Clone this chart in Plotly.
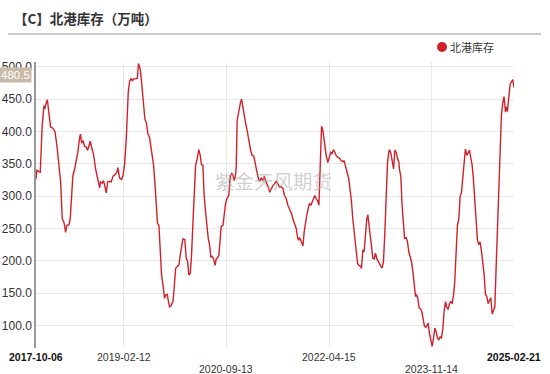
import pandas as pd
import plotly.graph_objects as go

origin = "2017-10-06"
# days since origin (weekly data)
day_offsets = [
    0, 5, 17, 24, 35, 45, 50, 54, 64, 73, 82, 95, 107, 118, 129, 139, 148, 156, 161, 167,
    174, 186, 193, 201, 208, 218, 227, 236, 246, 251, 257, 265, 274, 283, 291, 298, 306, 313,
    325, 336, 349, 359, 364, 374, 381, 389, 396, 404, 415, 424, 434, 445, 456, 462, 471, 483,
    490, 499, 509, 520, 528, 537, 543, 550, 561, 571, 578, 588, 597, 606, 614, 622, 631,
    640, 650, 663, 670, 678, 685, 693, 700, 708, 716, 725, 731, 740, 747, 753, 762, 772, 779,
    787, 796, 806, 813, 823, 828, 839, 847, 855, 862, 870, 877, 885, 892, 900, 909, 918, 926,
    933, 941, 948, 956, 964, 971, 979, 986, 994, 1001, 1010, 1016, 1025, 1031, 1039, 1044,
    1054, 1061, 1069, 1078, 1087, 1095, 1103, 1110, 1118, 1125, 1129, 1134, 1144, 1153, 1159,
    1166, 1174, 1181, 1191, 1200, 1210, 1219, 1228, 1238, 1245, 1253, 1260, 1270, 1279, 1287,
    1294, 1302, 1313,
    1317, 1326, 1335, 1345, 1354, 1364, 1373, 1382, 1392, 1401, 1411, 1420, 1429, 1441, 1448,
    1458, 1467, 1474, 1480, 1486, 1493, 1505, 1512, 1520, 1527, 1535, 1542, 1550, 1557, 1565,
    1572, 1580, 1589, 1595, 1602, 1610, 1617, 1627, 1636, 1645, 1655, 1662, 1670, 1677, 1685,
    1692, 1702, 1711, 1721, 1730, 1737, 1745, 1754, 1764, 1771, 1779, 1786, 1796, 1805, 1813,
    1820, 1830, 1835, 1843, 1850, 1858, 1865, 1871, 1877, 1884, 1892, 1899, 1907, 1914, 1922,
    1929, 1937, 1944, 1952, 1959, 1967, 1974, 1982, 1989,
    1993, 2001, 2008, 2016, 2023, 2031, 2038, 2046, 2049, 2057, 2064, 2072, 2078, 2087, 2094,
    2102, 2110, 2117, 2125, 2132, 2140, 2147, 2153, 2160, 2168, 2175, 2183, 2190, 2198, 2203,
    2211, 2218, 2226, 2234, 2241, 2249, 2256, 2264, 2271, 2279, 2286, 2294, 2301, 2309, 2316,
    2324, 2331, 2339, 2346, 2354, 2361, 2369, 2376, 2384, 2391, 2399, 2406, 2414, 2421, 2429,
    2436, 2444, 2451, 2459, 2466, 2474, 2481, 2489, 2496, 2504, 2512, 2519, 2527, 2534, 2542,
    2549, 2557, 2564, 2572, 2579, 2587, 2594, 2602, 2609, 2617, 2624, 2632, 2639, 2647, 2651,
    2658, 2666, 2673, 2688, 2695,
]
inventory = [
    326, 340, 338, 337, 409, 440, 435, 441, 449, 430, 407, 405, 400, 378, 353, 322, 265, 261, 255, 244,
    255, 256, 265, 296, 332, 342, 353, 368, 391, 396, 382, 386, 377, 376, 371, 377, 385, 376,
    364, 342, 326, 313, 322, 320, 324, 314, 305, 322, 323, 322, 331, 333, 337, 344, 328, 326,
    331, 348, 389, 460, 478, 482, 478, 481, 482, 482, 505, 496, 471, 445, 419, 414, 396,
    391, 368, 348, 322, 281, 258, 255, 219, 178, 163, 142, 147, 148, 137, 129, 131, 137, 158,
    188, 191, 194, 209, 224, 234, 233, 204, 199, 178, 181, 209, 260, 301, 348, 358, 372, 363,
    349, 348, 301, 276, 250, 235, 224, 206, 207, 203, 193, 203, 205, 209, 235, 253,
    255, 276, 289, 297, 301, 330, 335, 333, 324, 333, 345, 417, 435, 445, 450,
    437, 426, 414, 401, 383, 371, 363, 362, 348, 337, 328, 323, 328, 324, 331,
    324, 319, 312,
    306, 312, 316, 319, 323, 319, 314, 315, 312, 301, 296, 286, 280, 273, 265,
    258, 250, 237, 232, 236, 230, 223, 245, 263, 271, 281, 289, 286, 291, 294,
    301, 296, 292, 286, 348, 408, 402, 378, 363, 352, 363, 368, 366, 372, 368,
    363, 360, 359, 355, 353, 355, 348, 337, 326, 312, 291, 265, 240, 214, 196,
    193, 192, 188, 217, 214, 245, 265, 271, 260, 240, 222, 204, 203, 212, 203,
    199, 196, 192, 189, 199, 245, 301, 353, 368, 372, 366, 357, 342,
    371, 368, 358, 353, 342, 330, 286, 250, 235, 236, 230, 214, 206, 199, 183,
    163, 145, 147, 142, 127, 126, 122, 106, 99, 97, 99, 104, 88, 75, 68,
    80, 96, 91, 80, 78, 83, 80, 96, 122, 137, 128, 125, 134, 137, 134,
    147, 168, 214, 255, 265, 299, 306, 332, 358, 373, 363, 366, 371, 360, 348,
    327, 291, 265, 232, 225, 229, 214, 199, 178, 148, 145, 134, 139, 143, 118,
    123, 129, 188, 250, 312, 378, 425, 445, 454, 430, 438, 431, 455, 473, 480,
    468, 448, 425, 455, 480.5,
]
series_name = "北港库存"
title_text = "【C】北港库存（万吨）"
watermark = "紫金天风期货"
tick_dates = ["2017-10-06", "2019-02-12", "2020-09-13", "2022-04-15", "2023-11-14", "2025-02-21"]
tick_row = [0, 0, 1, 0, 1, 0]
tick_bold = [True, False, False, False, False, True]
y_ticks = [100, 150, 200, 250, 300, 350, 400, 450, 500]

dates = pd.to_datetime(origin) + pd.to_timedelta(day_offsets, unit="D")
last_value = inventory[-1]

RED = "#d2202a"
fig = go.Figure()
fig.add_trace(go.Scatter(
    x=dates, y=inventory, mode="lines", name=series_name,
    line=dict(color=RED, width=1.4), showlegend=False, hoverinfo="skip",
))

fig.update_layout(
    width=550, height=374,
    margin=dict(l=36, r=36, t=62, b=26, autoexpand=False),
    paper_bgcolor="white", plot_bgcolor="white",
    font=dict(family="Arial, Liberation Sans, sans-serif", color="#333333"),
    xaxis=dict(
        type="date",
        range=[tick_dates[0], tick_dates[-1]],
        tickvals=tick_dates[1:-1],
        showticklabels=False,
        showgrid=True, gridcolor="#e8e8e8", gridwidth=1,
        showline=False, zeroline=False, ticks="", automargin=False,
    ),
    yaxis=dict(
        range=[65.3, 507.4],
        tickvals=y_ticks,
        tickformat=".1f",
        tickfont=dict(size=12, color="#333333"),
        showgrid=True, gridcolor="#e8e8e8", gridwidth=1,
        showline=True, linecolor="#999999", linewidth=1.5,
        zeroline=False, ticks="", automargin=False,
    ),
)

annotations = []
# title
annotations.append(dict(
    text="<b>" + title_text + "</b>", xref="paper", yref="paper",
    x=(12 - 36) / 478, y=(348 - 18) / 286, xanchor="left", yanchor="middle",
    showarrow=False, font=dict(size=13.5, color="#333333",
                               family="Noto Sans CJK SC, sans-serif"),
))
# legend text
annotations.append(dict(
    text=series_name, xref="paper", yref="paper",
    x=(448 - 36) / 478, y=(348 - 47) / 286, xanchor="left", yanchor="middle",
    showarrow=False, font=dict(size=11, color="#333333",
                               family="Noto Sans CJK SC, sans-serif"),
))
# watermark
annotations.append(dict(
    text=watermark, xref="paper", yref="paper",
    x=(273 - 36) / 478, y=(348 - 180) / 286, xanchor="center", yanchor="middle",
    showarrow=False, font=dict(size=19.5, color="rgba(170,170,170,0.55)",
                               family="Noto Sans CJK SC, sans-serif"),
))
# last value tag on y axis
annotations.append(dict(
    text=f"{last_value:.1f}", xref="paper", yref="y",
    x=0, y=last_value, xanchor="right", yanchor="middle", xshift=-4, yshift=4,
    showarrow=False, bgcolor="#c9baa5", borderpad=1,
    font=dict(size=11.5, color="white"),
))
# x tick labels (staggered)
for d, row, bold in zip(tick_dates, tick_row, tick_bold):
    annotations.append(dict(
        text=("<b>" + d + "</b>") if bold else d,
        xref="x", yref="paper", x=d,
        y=-(9 / 286) if row == 0 else -(21 / 286),
        xanchor="center", yanchor="middle", showarrow=False,
        font=dict(size=10.5, color="#111111" if bold else "#333333"),
    ))
fig.update_layout(annotations=annotations)

# separator line under title, and legend dot
fig.add_shape(type="line", xref="paper", yref="paper",
              x0=(8 - 36) / 478, x1=(541 - 36) / 478,
              y0=(348 - 34) / 286, y1=(348 - 34) / 286,
              line=dict(color="#cccccc", width=2))
fig.add_shape(type="circle", xref="paper", yref="paper",
              x0=(437 - 36) / 478, x1=(447 - 36) / 478,
              y0=(348 - 52) / 286, y1=(348 - 42) / 286,
              fillcolor=RED, line=dict(color=RED, width=0))

fig.write_html("out.html", config={"displayModeBar": False},
               post_script="document.body.style.margin='0';")
